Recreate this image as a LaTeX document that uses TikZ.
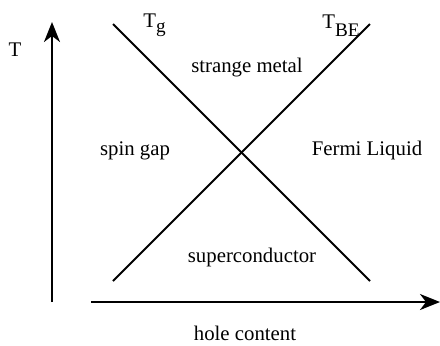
\documentclass[tikz,border=0pt]{standalone}
\usepackage{fontspec}
\setmainfont{Liberation Serif}
\usetikzlibrary{arrows.meta,positioning}

\begin{document}
\begin{tikzpicture}[
    x=0.5pt, y=0.5pt,
    font=\fontsize{10.4}{12}\selectfont,
    axis/.style={draw=black, line width=1.1pt, -{Stealth[length=10pt, width=8pt, inset=3pt]}},
    boundary/.style={draw=black, line width=0.9pt},
    region/.style={inner sep=0pt, text=black},
    curvelabel/.style={inner sep=0pt, anchor=south west}
]

% Frame in pixel units of the original (440 x 345).
\useasboundingbox (0,0) rectangle (440,345);

% Axes: x = hole content, y = temperature.
\coordinate (Tbot) at (52,43);
\coordinate (Ttop) at (52,323);
\coordinate (Hleft) at (91,43);
\coordinate (Hright) at (440,43);
\draw[axis] (Tbot) -- (Ttop);
\draw[axis] (Hleft) -- (Hright);
\node[region] (Tlab) at (15,295) {T};
\node[region] (holelab) at (245,12) {hole content};

% Crossover lines.
\coordinate (Gtop) at (113,321);
\coordinate (Gbot) at (370,64);
\coordinate (BEbot) at (113,64);
\coordinate (BEtop) at (370,321);
\draw[boundary] (Gtop) -- (Gbot);
\draw[boundary] (BEbot) -- (BEtop);

% Line labels.
\node[curvelabel] (Tg) at (143,308) {T\raisebox{-0.5ex}{\fontsize{9.6}{10}\selectfont g}};
\node[curvelabel] (TBE) at (322,308) {T\raisebox{-4pt}{\fontsize{9.6}{10}\selectfont BE}};

% Phase regions.
\node[region] (strange) at (247,277) {strange metal};
\node[region] (spingap) at (135,194) {spin gap};
\node[region] (fermi) at (367,195) {Fermi Liquid};
\node[region] (sc) at (252,88) {superconductor};

\end{tikzpicture}
\end{document}
